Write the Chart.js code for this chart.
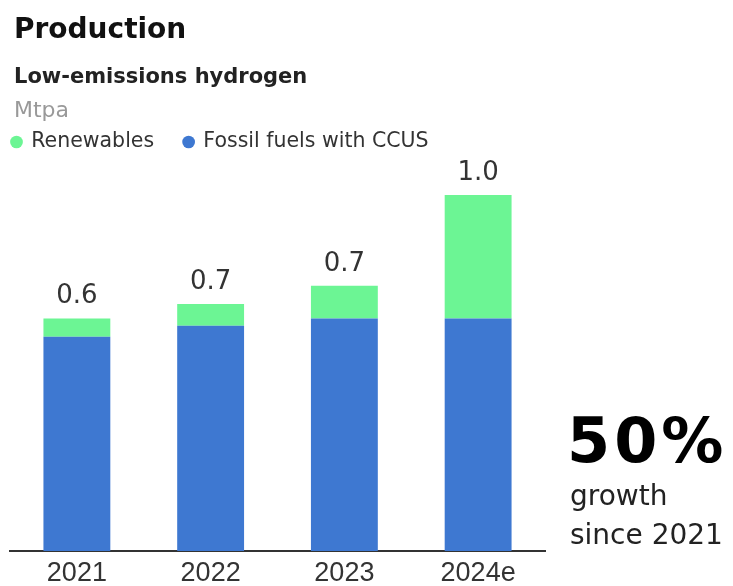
<!DOCTYPE html>
<html>
<head>
<meta charset="utf-8">
<script src="https://cdn.jsdelivr.net/npm/chart.js@4.4.1/dist/chart.umd.min.js"></script>
<style>
  html, body { margin: 0; padding: 0; background: #fff; overflow: hidden; }
  #wrap { position: relative; width: 733px; height: 586px; }
  #wrap canvas { position: absolute; left: 0; top: 0; }
  .txt { position: absolute; font-family: 'DejaVu Sans', sans-serif; line-height: 1.164; white-space: nowrap; }
  #title { left: 14px; top: 13px; font-size: 28px; font-weight: bold; color: #111; }
  #subtitle { left: 14px; top: 63.5px; font-size: 21px; font-weight: bold; color: #222; }
  #unit { left: 14px; top: 96.6px; font-size: 22px; color: #999; }
  #big { left: 567px; top: 404.5px; font-size: 62px; font-weight: bold; color: #000; letter-spacing: 4px; }
  #growth1 { left: 570px; top: 480px; font-size: 28px; color: #222; }
  #growth2 { left: 570px; top: 519px; font-size: 28px; color: #222; }
</style>
</head>
<body>
<div id="wrap">
  <canvas id="myChart" width="733" height="586"></canvas>
  <div class="txt" id="title">Production</div>
  <div class="txt" id="subtitle">Low-emissions hydrogen</div>
  <div class="txt" id="unit">Mtpa</div>
  <div class="txt" id="big">50%</div>
  <div class="txt" id="growth1">growth</div>
  <div class="txt" id="growth2">since 2021</div>
</div>
<script>
// data (Mtpa)
const years = ['2021', '2022', '2023', '2024e'];
const fossilCCUS = [0.59, 0.62, 0.64, 0.64];
const renewables = [0.05, 0.06, 0.09, 0.34];
const yMax = 1.07;

// total labels above each stacked bar
const totalLabels = {
  id: 'totalLabels',
  afterDatasetsDraw(chart) {
    const ctx = chart.ctx;
    const yScale = chart.scales.y;
    const meta = chart.getDatasetMeta(1);
    ctx.save();
    ctx.font = '26px "DejaVu Sans", sans-serif';
    ctx.fillStyle = '#333';
    ctx.textAlign = 'center';
    ctx.textBaseline = 'alphabetic';
    years.forEach((y, i) => {
      const total = fossilCCUS[i] + renewables[i];
      const x = meta.data[i].x;
      ctx.fillText(total.toFixed(1), x, yScale.getPixelForValue(total) - 15);
    });
    ctx.restore();
  }
};

const ctx = document.getElementById('myChart').getContext('2d');
new Chart(ctx, {
  type: 'bar',
  data: {
    labels: years,
    datasets: [
      {
        label: 'Fossil fuels with CCUS',
        data: fossilCCUS,
        backgroundColor: '#3e78d1',
        borderWidth: 0
      },
      {
        label: 'Renewables',
        data: renewables,
        backgroundColor: '#6cf594',
        borderWidth: 0
      }
    ]
  },
  options: {
    responsive: false,
    animation: false,
    devicePixelRatio: 1,
    layout: { padding: { left: -18, right: 188, top: 101.75, bottom: 0 } },
    datasets: { bar: { barPercentage: 0.5, categoryPercentage: 1 } },
    scales: {
      x: {
        stacked: true,
        grid: { display: false, drawTicks: false },
        border: { display: true, color: '#333', width: 2 },
        ticks: {
          padding: 6,
          color: '#333',
          font: { family: '"Liberation Sans", Arial, sans-serif', size: 27 }
        },
        afterFit: (scale) => { scale.height = 35; }
      },
      y: {
        stacked: true,
        min: 0,
        max: yMax,
        grid: { display: false },
        border: { display: false },
        ticks: { display: false },
        afterFit: (scale) => { scale.width = 28; }
      }
    },
    plugins: {
      tooltip: { enabled: false },
      legend: {
        position: 'top',
        align: 'start',
        reverse: true,
        labels: {
          usePointStyle: true,
          pointStyle: 'circle',
          boxWidth: 9,
          boxHeight: 9,
          padding: 30,
          color: '#333',
          font: { family: '"DejaVu Sans", sans-serif', size: 20.5 }
        }
      }
    }
  },
  plugins: [totalLabels]
});
</script>
</body>
</html>
